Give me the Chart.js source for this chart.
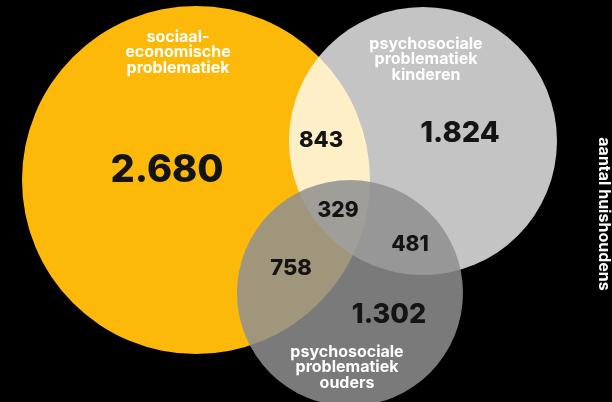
<!DOCTYPE html>
<html>
<head>
<meta charset="utf-8">
<script src="https://cdn.jsdelivr.net/npm/chart.js@4.4.0/dist/chart.umd.min.js"></script>
<style>
  html, body { margin: 0; padding: 0; background: #000; }
  canvas { display: block; }
</style>
</head>
<body>
<canvas id="venn" width="612" height="402"></canvas>
<script>
// de drie groepen (cirkels), in layout-eenheden
const setNames = [
  ['sociaal-', 'economische', 'problematiek'],
  ['psychosociale', 'problematiek', 'kinderen'],
  ['psychosociale', 'problematiek', 'ouders']
];
const circleX = [196, 423, 350];
const circleY = [180, 141, 293];
const circleR = [174, 134, 113];
const setNameX = [178, 426, 347];
const setNameY = [37, 44, 352];

// aantal huishoudens per deelgebied
const regions = ['S', 'K', 'O', 'S+K', 'S+O', 'K+O', 'S+K+O'];
const counts = [2680, 1824, 1302, 843, 758, 481, 329];
const countX = [167, 460, 389, 321, 291, 410, 338];
const countY = [171, 133, 315, 140, 268, 245, 211];

const axisTitle = 'aantal huishoudens';

// kleuren en mengmodus per cirkel
const setColors = ['rgb(252,185,10)', 'rgb(196,196,196)', 'rgba(143,143,143,0.85)'];
const blendModes = ['source-over', 'screen', 'source-over'];
const countSizes = [38, 29, 27, 22, 22, 21, 21];

function formatNL(n) {
  return String(n).replace(/\B(?=(\d{3})+(?!\d))/g, '.');
}

const vennPlugin = {
  id: 'venn',
  beforeDraw(chart) {
    const ctx = chart.ctx;
    ctx.save();
    ctx.fillStyle = '#000';
    ctx.fillRect(0, 0, chart.width, chart.height);
    ctx.restore();
  },
  beforeDatasetDraw(chart, args) {
    chart.ctx.save();
    chart.ctx.globalCompositeOperation = blendModes[args.index];
  },
  afterDatasetDraw(chart) {
    chart.ctx.restore();
  },
  afterDatasetsDraw(chart) {
    const ctx = chart.ctx;
    const xs = chart.scales.x, ys = chart.scales.y;
    ctx.save();
    ctx.textAlign = 'center';
    ctx.textBaseline = 'middle';

    // aantallen
    ctx.fillStyle = '#141414';
    counts.forEach((c, i) => {
      ctx.font = '800 ' + countSizes[i] + 'px Inter';
      ctx.fillText(formatNL(c), xs.getPixelForValue(countX[i]), ys.getPixelForValue(countY[i]));
    });

    // namen van de groepen
    ctx.fillStyle = '#fff';
    ctx.font = '700 16px Inter';
    setNames.forEach((lines, i) => {
      lines.forEach((line, j) => {
        ctx.fillText(line, xs.getPixelForValue(setNameX[i]), ys.getPixelForValue(setNameY[i] + j * 15.5));
      });
    });

    // verticale titel rechts (valt deels buiten beeld)
    ctx.font = '700 16px Inter';
    ctx.textBaseline = 'alphabetic';
    ctx.translate(xs.getPixelForValue(599), ys.getPixelForValue(214));
    ctx.rotate(Math.PI / 2);
    ctx.fillText(axisTitle, 0, 0);
    ctx.restore();
  }
};

const chart = new Chart(document.getElementById('venn'), {
  type: 'bubble',
  data: {
    datasets: setNames.map((name, i) => ({
      label: name.join(' '),
      data: [{ x: circleX[i], y: circleY[i], r: 1 }],
      backgroundColor: setColors[i],
      borderWidth: 0,
      order: setNames.length - i // eerste cirkel onderop
    }))
  },
  options: {
    responsive: false,
    animation: false,
    events: [],
    layout: { padding: 0, autoPadding: false },
    scales: {
      x: { type: 'linear', min: 0, max: 612, display: false },
      y: { type: 'linear', min: 0, max: 402, reverse: true, display: false }
    },
    plugins: { legend: { display: false }, tooltip: { enabled: false } }
  },
  plugins: [vennPlugin]
});

// straal in pixels afleiden uit de x-schaal
const xScale = chart.scales.x;
chart.data.datasets.forEach((d, i) => {
  d.data[0].r = Math.abs(xScale.getPixelForValue(circleR[i]) - xScale.getPixelForValue(0));
});
chart.update();
</script>
</body>
</html>
